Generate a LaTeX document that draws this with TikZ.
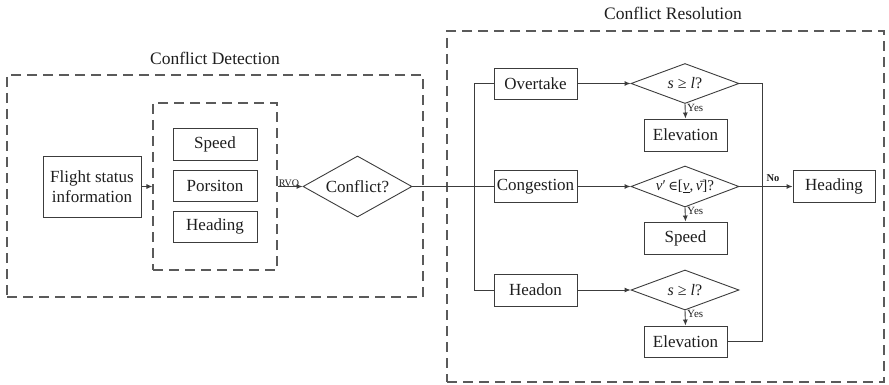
\documentclass[tikz,border=0pt]{standalone}
\usepackage{fontspec}
\setmainfont{Liberation Serif}
\newfontfamily\symfont{DejaVu Serif}
\usetikzlibrary{shapes.geometric,arrows.meta}
\definecolor{ln}{HTML}{3C3C3C}
\definecolor{dsh}{HTML}{5A5A5A}
\definecolor{tx}{HTML}{1E1E1E}
\tikzset{
  box/.style={draw=ln,line width=0.9pt,rectangle,inner sep=0pt,minimum width=83pt,minimum height=32pt,text=tx,font=\rmfamily\fontsize{17}{20}\selectfont},
  dashbox/.style={draw=dsh,line width=1.1pt,dash pattern=on 10pt off 6pt,rectangle,inner sep=0pt},
  dia/.style={draw=ln,line width=0.9pt,diamond,inner sep=0pt,minimum width=108pt,minimum height=40pt},
  diatext/.style={text=tx,font=\rmfamily\fontsize{16}{18}\selectfont,inner sep=0pt},
  conn/.style={draw=ln,line width=0.9pt},
  arr/.style={conn,-{Latex[length=6pt,width=5pt]}},
  small/.style={text=tx,font=\rmfamily\fontsize{11}{12}\selectfont,inner sep=1pt},
  title/.style={text=tx,font=\rmfamily\fontsize{17.5}{20}\selectfont},
}
\begin{document}
\begin{tikzpicture}[x=1pt,y=-1pt]
\useasboundingbox (0,0) rectangle (889,385);
% containers
\node[dashbox,minimum width=416pt,minimum height=222pt] (cd) at (215,186) {};
\node[title] (tcd) at (215,58) {Conflict Detection};
\node[dashbox,minimum width=124pt,minimum height=167pt] (inner) at (215,186.5) {};
\node[dashbox,minimum width=437pt,minimum height=351pt] (cr) at (665.5,206.5) {};
\node[title] (tcr) at (673,13) {Conflict Resolution};
% left part
\node[box,minimum width=98pt,minimum height=61pt,align=center] (flight) at (92,186.5) {Flight status\\information};
\node[box,minimum width=84pt] (spd) at (215,144) {Speed};
\node[box,minimum width=84pt,minimum height=31pt] (pos) at (215,185.5) {Porsiton};
\node[box,minimum width=84pt,minimum height=31pt] (hdg) at (215,226.5) {Heading};
\node[dia,minimum width=109pt,minimum height=61pt] (conf) at (357.5,186.5) {};
\node[diatext,font=\rmfamily\fontsize{17}{19}\selectfont] (conft) at (conf) {Conflict?};
% right part
\node[box,minimum height=31pt] (over) at (535.5,83.5) {Overtake};
\node[box] (cong) at (535.5,186.5) {Congestion};
\node[box] (head) at (535.5,290) {Headon};
\node[dia] (d1) at (685,83.5) {};
\node[diatext] (d1t) at (d1) {\textit{s} ≥ \textit{l}?};
\node[dia,minimum height=41pt] (d2) at (685,186.5) {};
\node[diatext,font=\rmfamily\fontsize{15}{17}\selectfont] (d2t) at (d2) {\textit{v}′\,{\symfont\fontsize{13}{15}\selectfont ∈}[\underline{\textit{v}},\,\={\textit{v}}]?};
\node[dia] (d3) at (685,290) {};
\node[diatext] (d3t) at (d3) {\textit{s} ≥ \textit{l}?};
\node[box] (el1) at (685.5,135) {Elevation};
\node[box] (sp2) at (685.5,238) {Speed};
\node[box,minimum height=31pt] (el2) at (685.5,341.5) {Elevation};
\node[box,minimum width=82pt] (hd2) at (834,186.5) {Heading};
% junction coordinates
\coordinate (jt) at (474,83.5);
\coordinate (jb) at (474,290);
\coordinate (rt) at (762,83.5);
\coordinate (rb) at (762,341.5);
% connectors
\draw[arr] (flight.east) -- (inner.west);
\draw[arr] (inner.east) -- (conf.west);
\node[small,anchor=south west,font=\rmfamily\fontsize{10}{11}\selectfont] (rvo) at ([yshift=-1pt]inner.east) {RVO};
\draw[conn] (conf.east) -- (cong.west);
\draw[conn] (over.west) -- (jt) -- (jb) -- (head.west);
\draw[arr] (over.east) -- (d1.west);
\draw[arr] (cong.east) -- (d2.west);
\draw[arr] (head.east) -- (d3.west);
\draw[arr] (d1.south) -- (el1.north);
\draw[arr] (d2.south) -- (sp2.north);
\draw[arr] (d3.south) -- (el2.north);
\node[small,anchor=north west] (y1) at ([xshift=1pt,yshift=1pt]d1.south) {Yes};
\node[small,anchor=north west] (y2) at ([xshift=1pt,yshift=1pt]d2.south) {Yes};
\node[small,anchor=north west] (y3) at ([xshift=1pt,yshift=1pt]d3.south) {Yes};
\draw[conn] (d1.east) -- (rt) -- (rb) -- (el2.east);
\draw[arr] (d2.east) -- (hd2.west);
\node[small,font=\rmfamily\bfseries\fontsize{10.5}{12}\selectfont,anchor=south] (no) at (773,183) {No};
\end{tikzpicture}
\end{document}
